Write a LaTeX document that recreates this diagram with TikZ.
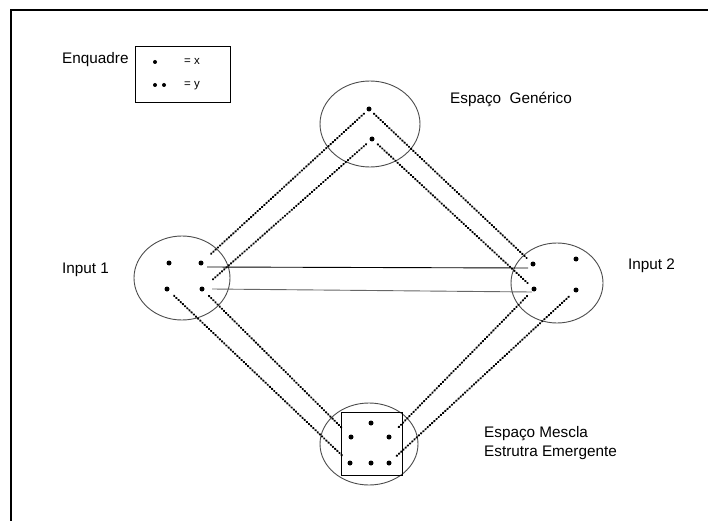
\documentclass[tikz,border=0pt]{standalone}
\usepackage{fontspec}
\setmainfont{Liberation Sans}
\usetikzlibrary{shapes.geometric}
\begin{document}
\begin{tikzpicture}[x=1pt,y=-1pt,
  every node/.style={inner sep=0pt},
  lbl/.style={font=\fontsize{15.3}{18}\selectfont, anchor=base west},
  small/.style={font=\fontsize{11.5}{13}\selectfont, anchor=base west},
  spc/.style={draw=black!70, line width=0.9pt, ellipse},
  pt/.style={circle, fill=black, minimum size=5pt},
  dotl/.style={line width=2.1pt, line cap=round, dash pattern=on 0.6pt off 2.4pt, shorten >=7pt, shorten <=7pt},
  frame/.style={line width=1.1pt}]
\useasboundingbox (0,0) rectangle (708,521);
% frame
\coordinate (ftl) at (11,10);
\coordinate (ftr) at (708,10);
\coordinate (fbl) at (11,521);
\draw[frame] (ftr) -- (ftl) -- (fbl);
% legend
\node[lbl] (enq) at (62,64) {Enquadre};
\node[draw, line width=0.9pt, minimum width=95pt, minimum height=56pt] (leg) at (182.5,74) {};
\node[pt, minimum size=4pt] (lx) at (155,62) {};
\node[small] (tx) at (184,65) {= x};
\node[pt, minimum size=4pt] (ly1) at (155,85) {};
\node[pt, minimum size=4pt] (ly2) at (164,85) {};
\node[small] (ty) at (184,88) {= y};
% spaces
\node[spc, minimum width=100pt, minimum height=86pt] (gen) at (370,124) {};
\node[spc, minimum width=96pt, minimum height=84pt] (in1) at (182,278) {};
\node[spc, minimum width=92pt, minimum height=80pt] (in2) at (557,283) {};
\node[spc, minimum width=98pt, minimum height=82pt] (mix) at (369,444) {};
\node[draw, line width=1pt, minimum width=61pt, minimum height=63pt] (sq) at (371.5,443.5) {};
% labels
\node[lbl] (lgen) at (450,104) {Espaço\ \ Genérico};
\node[lbl] (lin1) at (62,273) {Input 1};
\node[lbl] (lin2) at (628,269) {Input 2};
\node[lbl] (lmix1) at (484,437) {Espaço Mescla};
\node[lbl] (lmix2) at (484,456) {Estrutra Emergente};
% dots
\node[pt] (g1) at (369,109) {};
\node[pt] (g2) at (372,139) {};
\node[pt] (a1) at (169,263) {};
\node[pt] (a2) at (201,263) {};
\node[pt] (a3) at (167,289) {};
\node[pt] (a4) at (202,289) {};
\node[pt] (b1) at (533,264) {};
\node[pt] (b2) at (576,259) {};
\node[pt] (b3) at (534,289) {};
\node[pt] (b4) at (576,290) {};
\node[pt] (m1) at (371,423) {};
\node[pt] (m2) at (351,437) {};
\node[pt] (m3) at (389,437) {};
\node[pt] (m4) at (350,463) {};
\node[pt] (m5) at (371,463) {};
\node[pt] (m6) at (389,463) {};
% dotted projections
\draw[dotl, shorten <=4pt, shorten >=10pt] (g1) -- (a2);
\draw[dotl, shorten <=5pt, shorten >=10pt] (g2) -- (a4);
\draw[dotl, shorten <=4pt, shorten >=6pt] (g1) -- (b1);
\draw[dotl, shorten <=5pt, shorten >=6pt] (g2) -- (b3);
\draw[dotl] (a3) -- (m4);
\draw[dotl, shorten >=9pt] (a4) -- (m2);
\draw[dotl, shorten >=9pt] (b3) -- (m3);
\draw[dotl, shorten >=6pt] (b4) -- (m6);
% solid correspondences
\draw[line width=0.9pt] ([shift={(6,4)}]a2.center) -- ([shift={(-5,4)}]b1.center);
\draw[line width=0.9pt, black!60] ([shift={(10,0)}]a4.center) -- ([shift={(-2,3)}]b3.center);
\end{tikzpicture}
\end{document}
